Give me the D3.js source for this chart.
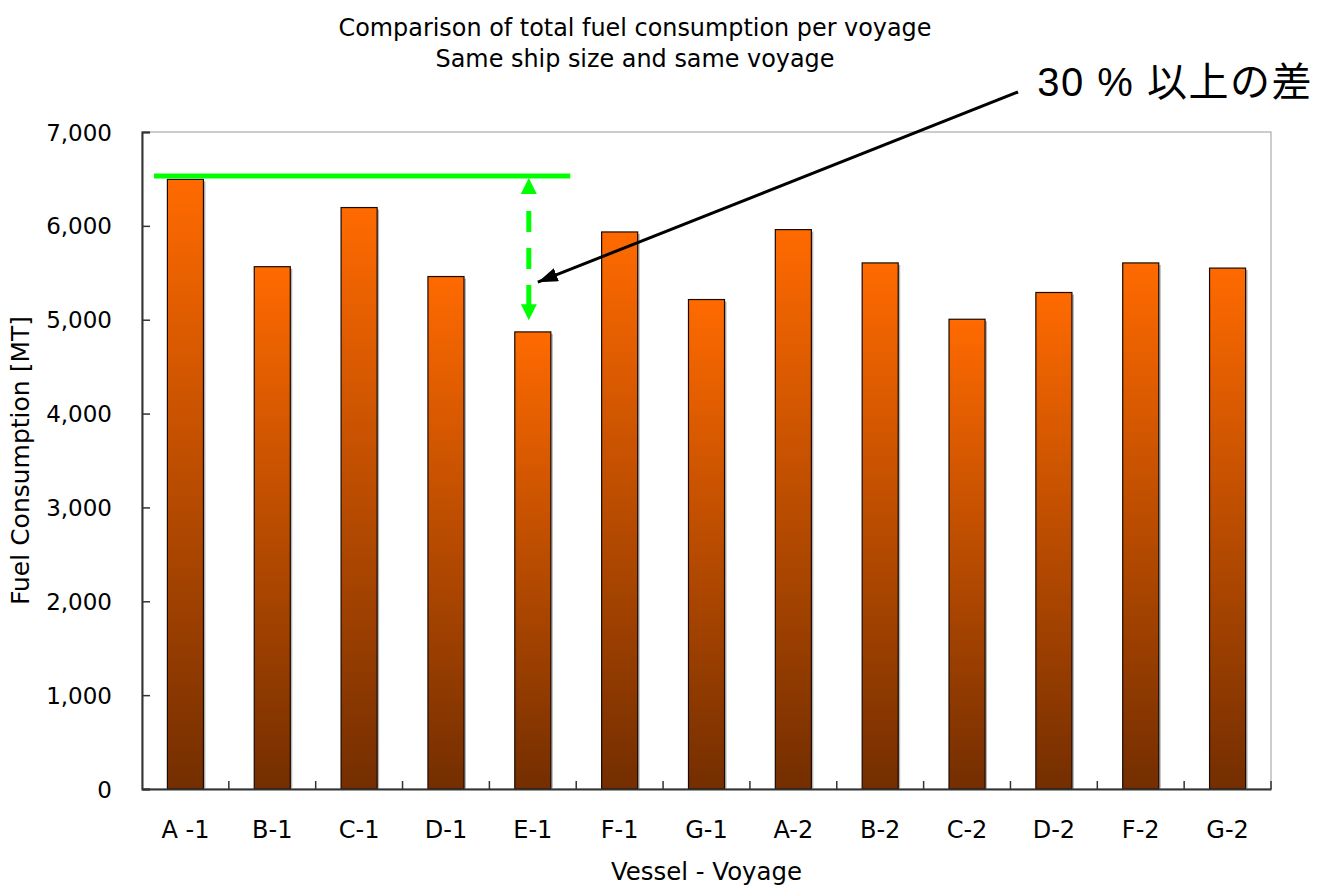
<!DOCTYPE html>
<html>
<head>
<meta charset="utf-8">
<script src="https://cdn.jsdelivr.net/npm/d3@7"></script>
<style>
  html, body { margin: 0; padding: 0; background: #fff; }
  svg { display: block; }
  text { font-family: "DejaVu Sans", sans-serif; fill: #000; }
</style>
</head>
<body>
<svg id="chart" width="1318" height="887"></svg>
<script>
// Vessel-voyage categories and total fuel consumption per voyage [MT]
const categories = ["A -1", "B-1", "C-1", "D-1", "E-1", "F-1", "G-1", "A-2", "B-2", "C-2", "D-2", "F-2", "G-2"];
const fuel = [6495, 5565, 6195, 5460, 4870, 5935, 5215, 5960, 5605, 5005, 5290, 5605, 5550];
const yTicks = [0, 1000, 2000, 3000, 4000, 5000, 6000, 7000];
const titleLines = ["Comparison of total fuel consumption per voyage", "Same ship size and same voyage"];

// Reference level of the highest voyage and the span of the difference arrow
const refLevel = 6530;
const diffFrom = 6510;
const diffTo = 4995;
const noteText = "30 % 以上の差";

const svg = d3.select("#chart");
const margin = { left: 142, right: 47, top: 132, bottom: 98 };
const W = 1318, H = 887;
const x0 = margin.left, x1 = W - margin.right, y0 = H - margin.bottom, y1 = margin.top;

const x = d3.scaleBand().domain(categories).range([x0, x1]).paddingInner(0.585).paddingOuter(0.2925);
const step = x.step();
const y = d3.scaleLinear().domain([0, 7000]).range([y0, y1]);

// Vertical gradient for each bar: bright orange on top to dark brown at the base
const defs = svg.append("defs");
const grad = defs.append("linearGradient").attr("id", "barGrad")
  .attr("x1", 0).attr("y1", 0).attr("x2", 0).attr("y2", 1);
grad.append("stop").attr("offset", "0%").attr("stop-color", "#FF6A00");
grad.append("stop").attr("offset", "100%").attr("stop-color", "#742E00");

const arrowGreen = defs.append("marker").attr("id", "greenHead")
  .attr("viewBox", "0 0 16 16").attr("refX", 16).attr("refY", 8)
  .attr("markerWidth", 16).attr("markerHeight", 16).attr("markerUnits", "userSpaceOnUse")
  .attr("orient", "auto-start-reverse");
arrowGreen.append("path").attr("d", "M0,0 L16,8 L0,16 Z").attr("fill", "#00FF00");

const arrowBlack = defs.append("marker").attr("id", "blackHead")
  .attr("viewBox", "0 0 20 14").attr("refX", 20).attr("refY", 7)
  .attr("markerWidth", 20).attr("markerHeight", 14).attr("markerUnits", "userSpaceOnUse")
  .attr("orient", "auto");
arrowBlack.append("path").attr("d", "M0,0 L20,7 L0,14 Z").attr("fill", "#000");

// Plot frame (top and right edges)
svg.append("rect").attr("x", x0).attr("y", y1).attr("width", x1 - x0).attr("height", y0 - y1)
  .attr("fill", "none").attr("stroke", "#9a9a9a").attr("stroke-width", 1);

// Bars with a soft drop shadow
const bars = svg.append("g");
bars.selectAll("rect.shadow").data(categories).join("rect").attr("class", "shadow")
  .attr("x", d => x(d) + 2).attr("y", (d, i) => y(fuel[i]) + 2)
  .attr("width", x.bandwidth()).attr("height", (d, i) => y0 - y(fuel[i]) - 2)
  .attr("fill", "#b5b5b5");
bars.selectAll("rect.bar").data(categories).join("rect").attr("class", "bar")
  .attr("x", d => x(d)).attr("y", (d, i) => y(fuel[i]))
  .attr("width", x.bandwidth()).attr("height", (d, i) => y0 - y(fuel[i]))
  .attr("fill", "url(#barGrad)").attr("stroke", "#1a0a00").attr("stroke-width", 1.2);

// Y axis: ticks pointing inward
const yAxis = svg.append("g").attr("transform", `translate(${x0},0)`)
  .call(d3.axisLeft(y).tickValues(yTicks).tickSize(-8).tickPadding(30).tickFormat(d3.format(",")));
yAxis.select(".domain").attr("stroke", "#333").attr("stroke-width", 2);
yAxis.selectAll(".tick line").attr("stroke", "#333").attr("stroke-width", 1.5);
yAxis.selectAll(".tick text").style("font-size", "23px").style("font-family", "DejaVu Sans").attr("dy", "0.35em");

// X axis: category labels, tick marks at category boundaries
const xAxis = svg.append("g").attr("transform", `translate(0,${y0})`)
  .call(d3.axisBottom(x).tickSize(0).tickPadding(32));
xAxis.select(".domain").attr("stroke", "#333").attr("stroke-width", 2);
xAxis.selectAll(".tick text").style("font-size", "24px").style("font-family", "DejaVu Sans");
svg.append("g").selectAll("line").data(d3.range(1, categories.length + 1)).join("line")
  .attr("x1", i => x0 + i * step).attr("x2", i => x0 + i * step)
  .attr("y1", y0).attr("y2", y0 - 8)
  .attr("stroke", "#333").attr("stroke-width", 1.5);

// Titles
svg.append("g").selectAll("text").data(titleLines).join("text")
  .attr("x", 635).attr("y", (d, i) => 36 + i * 31)
  .attr("text-anchor", "middle").style("font-size", "23.9px").text(d => d);
svg.append("text").attr("x", (x0 + x1) / 2).attr("y", 880).attr("text-anchor", "middle")
  .style("font-size", "24.4px").text("Vessel - Voyage");
svg.append("text").attr("transform", `translate(29,${(y0 + y1) / 2}) rotate(-90)`)
  .attr("text-anchor", "middle").style("font-size", "25px").text("Fuel Consumption [MT]");

// Green reference line at the top voyage level
const iA = categories.indexOf("A -1"), iE = categories.indexOf("E-1");
svg.append("line")
  .attr("x1", x0 + iA * step + 12).attr("x2", x0 + (iE + 1) * step - 6)
  .attr("y1", y(refLevel)).attr("y2", y(refLevel))
  .attr("stroke", "#00FF00").attr("stroke-width", 5);

// Dashed double-headed arrow showing the spread down to E-1
const arrowX = x("E-1") + x.bandwidth() / 2 - 4;
svg.append("line")
  .attr("x1", arrowX).attr("x2", arrowX)
  .attr("y1", y(diffFrom)).attr("y2", y(diffTo))
  .attr("stroke", "#00FF00").attr("stroke-width", 5)
  .attr("stroke-dasharray", "0,33,21,16,21,16,21,40")
  .attr("marker-start", "url(#greenHead)").attr("marker-end", "url(#greenHead)");

// Callout arrow and note
svg.append("line")
  .attr("x1", 1018).attr("y1", 92).attr("x2", arrowX + 9).attr("y2", y(5400))
  .attr("stroke", "#000").attr("stroke-width", 3).attr("marker-end", "url(#blackHead)");
svg.append("text").attr("x", 1313).attr("y", 96).attr("text-anchor", "end")
  .style("font-family", "'Liberation Sans', 'Noto Sans CJK JP', sans-serif")
  .style("font-size", "40px").attr("letter-spacing", "1.5px").text(noteText);
</script>
</body>
</html>
